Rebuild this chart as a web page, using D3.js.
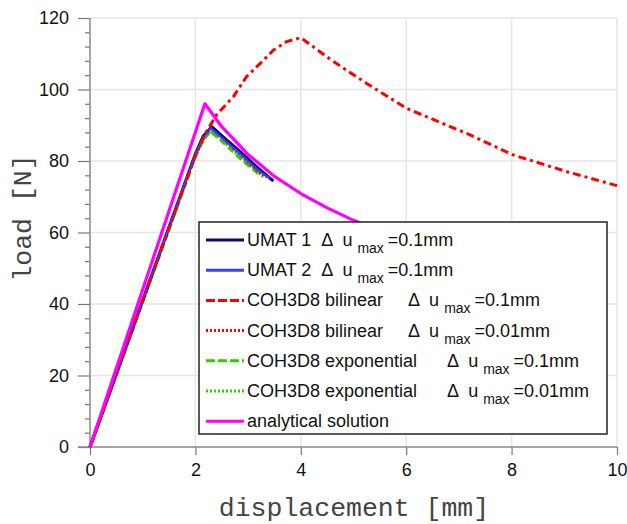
<!DOCTYPE html>
<html>
<head>
<meta charset="utf-8">
<script src="https://cdn.jsdelivr.net/npm/d3@7"></script>
<style>
  body { margin: 0; background: #fff; }
  text { font-family: "Liberation Sans", Arial, sans-serif; }
</style>
</head>
<body>
<svg width="627" height="524"></svg>
<script>
// load-displacement curves
const umat1 = [[0, 0], [1, 41], [2, 82], [2.15, 87], [2.31, 89.6], [2.5, 87.1], [2.85, 82.6], [3.16, 78.4], [3.48, 74.4]]
const umat2 = [[0, 0], [1, 41], [2, 81.8], [2.15, 86.6], [2.29, 89.2], [2.5, 86.5], [2.85, 82], [3.15, 77.9], [3.42, 75]]
const cohBilin01 = [[0, 0], [1, 41], [2, 81.5], [2.2, 88], [2.4, 92.9], [2.72, 98], [2.97, 103.6], [3.23, 107.3], [3.48, 111],
  [3.73, 113.4], [4.0, 114.5], [4.62, 107.8], [5.25, 101.7], [6.01, 94.7], [7.15, 87.7], [8.03, 81.7], [9.05, 77], [10, 73.1]]
const cohBilin001 = [[0, 0], [1, 41], [2, 81.8], [2.15, 86.8], [2.3, 89.4], [2.5, 86.6], [2.85, 81.8], [3.15, 77.6], [3.35, 75.5]]
const cohExp01 = [[0, 0], [1, 40.8], [2, 81.4], [2.15, 86], [2.28, 88.4], [2.47, 86.1], [2.85, 80.8], [3.23, 76.1], [3.28, 75.7]]
const cohExp001 = [[0, 0], [1, 40.8], [2, 81.4], [2.15, 86.1], [2.28, 88.5], [2.47, 86.3], [2.85, 81.1], [3.2, 76.6], [3.3, 75.9]]
const analytical = [[0, 0], [2.18, 96], [2.5, 89.6], [3, 81.8], [3.5, 75.7], [4, 70.9], [4.5, 66.9], [5, 63.4], [5.5, 60.5],
  [6, 57.9], [7, 53.6], [8, 50.1]]

const legendNames = ['UMAT 1', 'UMAT 2', 'COH3D8 bilinear', 'COH3D8 bilinear', 'COH3D8 exponential', 'COH3D8 exponential', 'analytical solution']
const legendGaps = ['  ', '  ', '     ', '     ', '      ', '      ', null]
const legendDu = ['0.1mm', '0.1mm', '0.1mm', '0.01mm', '0.1mm', '0.01mm', null]

const xTicks = [0, 2, 4, 6, 8, 10]
const yTicks = [0, 20, 40, 60, 80, 100, 120]

const svg = d3.select('svg')
const x = d3.scaleLinear().domain([0, 10]).range([90, 617])
const y = d3.scaleLinear().domain([0, 120]).range([447, 18])

// grid
svg.append('g').selectAll('line').data(xTicks.slice(1)).enter().append('line')
  .attr('x1', d => x(d)).attr('x2', d => x(d)).attr('y1', y(0)).attr('y2', y(120))
  .attr('stroke', '#e6e6e6').attr('stroke-width', 1.5)
svg.append('g').selectAll('line').data(yTicks.slice(1)).enter().append('line')
  .attr('x1', x(0)).attr('x2', x(10)).attr('y1', d => y(d)).attr('y2', d => y(d))
  .attr('stroke', '#e6e6e6').attr('stroke-width', 1.5)

// axes
const yAxis = svg.append('g').attr('transform', `translate(${x(0)},0)`)
  .call(d3.axisLeft(y).tickValues(d3.range(0, 121, 4)).tickSize(5).tickFormat(''))
yAxis.select('.domain').remove()
yAxis.selectAll('.tick line').attr('stroke', '#777').attr('stroke-width', 1.2)
  .filter(d => d % 20 === 0).attr('x2', -12)

const yLab = svg.append('g').attr('transform', `translate(${x(0)},0)`)
  .call(d3.axisLeft(y).tickValues(yTicks).tickSize(0).tickPadding(21))
yLab.select('.domain').remove()
yLab.selectAll('text').attr('font-size', 18).attr('fill', '#111').attr('font-family', 'Liberation Sans, Arial')

const xAxis = svg.append('g').attr('transform', `translate(0,${y(0)})`)
  .call(d3.axisBottom(x).tickValues(xTicks).tickSize(8).tickPadding(8))
xAxis.select('.domain').remove()
xAxis.selectAll('.tick line').attr('stroke', '#777').attr('stroke-width', 1.2)
xAxis.selectAll('text').attr('font-size', 18).attr('fill', '#111').attr('font-family', 'Liberation Sans, Arial')

svg.append('line').attr('x1', x(0)).attr('x2', x(0)).attr('y1', y(0)).attr('y2', y(120))
  .attr('stroke', '#888').attr('stroke-width', 1.5)
svg.append('line').attr('x1', x(0) - 12).attr('x2', x(10)).attr('y1', y(0)).attr('y2', y(0))
  .attr('stroke', '#888').attr('stroke-width', 1.5)

// curves
const line = d3.line().x(d => x(d[0])).y(d => y(d[1]))
const series = [
  { data: cohExp01, color: '#33cc00', width: 3.5, dash: '7,4' },
  { data: cohExp001, color: '#33cc00', width: 3, dash: '2,2' },
  { data: cohBilin001, color: '#ff0000', width: 3, dash: '2,2' },
  { data: umat1, color: '#0b0b6b', width: 3, dash: null },
  { data: umat2, color: '#3b3bff', width: 2.2, dash: null },
  { data: cohBilin01, color: '#ff0000', width: 3, dash: '8,4,3,4' },
  { data: analytical, color: '#ff00ff', width: 3.2, dash: null }
]
svg.append('g').selectAll('path').data(series).enter().append('path')
  .attr('d', d => line(d.data))
  .attr('fill', 'none')
  .attr('stroke', d => d.color)
  .attr('stroke-width', d => d.width)
  .attr('stroke-dasharray', d => d.dash)
  .attr('stroke-linejoin', 'round')

// legend
const legendStyles = [
  { color: '#0b0b6b', dash: null }, { color: '#3b3bff', dash: null },
  { color: '#ff0000', dash: '9,3' }, { color: '#ff0000', dash: '2,2' },
  { color: '#33cc00', dash: '9,3' }, { color: '#33cc00', dash: '2,2' },
  { color: '#ff00ff', dash: null }
]
const lg = svg.append('g')
lg.append('rect').attr('x', 199).attr('y', 222).attr('width', 408).attr('height', 212)
  .attr('fill', '#fff').attr('stroke', '#222').attr('stroke-width', 1.5)
const rows = lg.selectAll('g.row').data(legendNames).enter().append('g')
  .attr('class', 'row')
  .attr('transform', (d, i) => `translate(206,${240 + i * 30.2})`)
rows.append('line').attr('x1', 0).attr('x2', 38)
  .attr('stroke', (d, i) => legendStyles[i].color)
  .attr('stroke-dasharray', (d, i) => legendStyles[i].dash)
  .attr('stroke-width', 3)
const lt = rows.append('text').attr('x', 41).attr('y', 6)
  .attr('font-size', 18).attr('fill', '#111').style('white-space', 'pre')
lt.append('tspan').text(d => d)
lt.each(function (d, i) {
  if (legendDu[i] === null) return
  const t = d3.select(this)
  t.append('tspan').text(legendGaps[i] + 'Δ  u ')
  t.append('tspan').attr('font-size', 14).attr('dy', 7).text('max ')
  t.append('tspan').attr('dy', -7).text('=' + legendDu[i])
})

// axis titles
svg.append('text').attr('x', 354).attr('y', 516).attr('text-anchor', 'middle')
  .attr('font-size', 26.5).attr('fill', '#444')
  .style('font-family', '"Liberation Mono", "Courier New", monospace')
  .text('displacement [mm]')
svg.append('text').attr('transform', 'translate(31,218) rotate(-90)').attr('text-anchor', 'middle')
  .attr('font-size', 26.5).attr('fill', '#444')
  .style('font-family', '"Liberation Mono", "Courier New", monospace')
  .text('load [N]')
</script>
</body>
</html>
